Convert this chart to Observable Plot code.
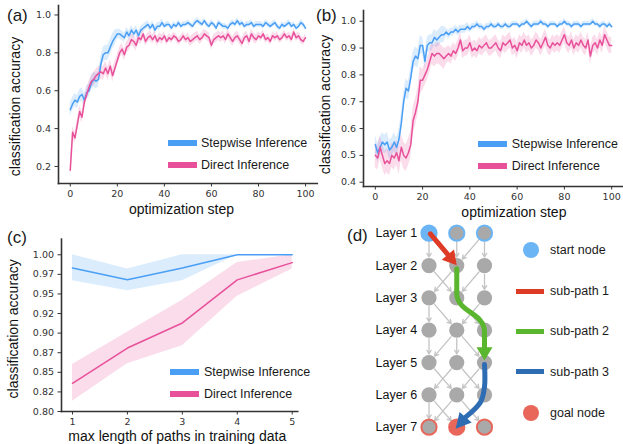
<!DOCTYPE html>
<html><head><meta charset="utf-8">
<script src="https://cdn.jsdelivr.net/npm/d3@7"></script>
<script src="https://cdn.jsdelivr.net/npm/@observablehq/plot@0.6"></script>
<style>
body{margin:0;background:#fff;}
#root{position:relative;width:623px;height:444px;overflow:hidden;background:#fff;font-family:"Liberation Sans",Arial,sans-serif;color:#1a1a1a}
#root svg{position:absolute}
.abs{position:absolute;line-height:1;white-space:nowrap;transform:translateY(-50%)}
.lbl{font-size:17px}
.leg{font-size:12.5px}
.sw{position:absolute}
</style></head><body><div id="root"></div>
<script>
// ---------- colours ----------
const BLUE = "#4a9ff5", PINK = "#e8509a";
const SERIES = ["Stepwise Inference", "Direct Inference"];

// ---------- panel (a) data ----------
const stepsA = d3.range(0, 101);
const xTicksA = [0, 20, 40, 60, 80, 100];
const yTicksA = [0.2, 0.4, 0.6, 0.8, 1.0];
const stepwiseA = [
  0.50,0.53,0.55,0.54,0.57,0.58,0.55,0.59,0.60,0.64,
  0.66,0.65,0.66,0.74,0.79,0.80,0.80,0.83,0.86,0.88,
  0.90,0.90,0.89,0.88,0.91,0.89,0.92,0.90,0.92,0.89,
  0.92,0.93,0.94,0.95,0.93,0.95,0.92,0.94,0.94,0.96,
  0.94,0.95,0.95,0.93,0.95,0.94,0.96,0.94,0.95,0.95,
  0.96,0.95,0.94,0.96,0.97,0.96,0.95,0.97,0.95,0.94,
  0.96,0.95,0.93,0.96,0.95,0.94,0.94,0.93,0.95,0.96,
  0.95,0.97,0.95,0.96,0.94,0.95,0.95,0.96,0.94,0.95,
  0.95,0.95,0.94,0.96,0.95,0.94,0.95,0.96,0.94,0.93,
  0.95,0.94,0.95,0.96,0.94,0.95,0.93,0.94,0.96,0.95,
  0.93];
const directA = [
  0.18,0.38,0.35,0.42,0.49,0.46,0.54,0.58,0.62,0.65,
  0.66,0.68,0.69,0.70,0.69,0.72,0.69,0.73,0.68,0.72,
  0.76,0.80,0.82,0.79,0.83,0.84,0.87,0.86,0.84,0.88,
  0.87,0.90,0.86,0.88,0.89,0.87,0.89,0.86,0.88,0.87,
  0.89,0.86,0.88,0.87,0.89,0.88,0.86,0.87,0.89,0.87,
  0.88,0.86,0.87,0.88,0.89,0.87,0.88,0.90,0.89,0.88,
  0.84,0.87,0.88,0.89,0.88,0.89,0.87,0.90,0.88,0.86,
  0.88,0.89,0.87,0.85,0.88,0.89,0.86,0.90,0.88,0.87,
  0.89,0.88,0.90,0.87,0.88,0.86,0.89,0.88,0.89,0.87,
  0.88,0.90,0.88,0.89,0.87,0.91,0.88,0.89,0.87,0.86,
  0.88];
// band half-widths per block of 10 steps
const stepwiseBandA = [0.035,0.04,0.025,0.02,0.015,0.015,0.015,0.015,0.015,0.015,0.015];
const directBandA   = [0.03,0.035,0.03,0.025,0.02,0.025,0.025,0.025,0.02,0.02,0.02];

// ---------- panel (b) data ----------
const stepsB = d3.range(0, 101);
const xTicksB = [0, 20, 40, 60, 80, 100];
const yTicksB = [0.4, 0.5, 0.6, 0.7, 0.8, 0.9, 1.0];
const stepwiseB = [
  0.54,0.51,0.53,0.55,0.54,0.55,0.52,0.53,0.55,0.53,
  0.56,0.62,0.70,0.75,0.74,0.79,0.85,0.87,0.86,0.91,
  0.91,0.85,0.91,0.92,0.92,0.94,0.93,0.94,0.95,0.95,
  0.96,0.95,0.96,0.96,0.97,0.96,0.97,0.97,0.97,0.98,
  0.97,0.98,0.98,0.99,0.98,0.98,0.97,0.98,0.98,0.99,
  0.98,0.98,0.99,0.98,0.98,0.99,0.98,0.98,0.99,0.99,
  0.99,0.98,0.99,0.99,1.00,0.99,0.98,0.99,0.99,0.99,
  1.00,0.99,0.99,0.98,0.99,0.99,0.99,0.98,0.99,0.99,
  1.00,0.99,0.99,0.98,0.99,0.99,0.99,0.98,0.99,0.99,
  0.99,0.99,1.00,0.99,0.99,0.98,0.99,0.99,0.98,0.99,
  0.98];
const directB = [
  0.50,0.49,0.53,0.50,0.47,0.48,0.47,0.50,0.49,0.51,
  0.48,0.53,0.50,0.49,0.51,0.54,0.63,0.66,0.70,0.78,
  0.78,0.80,0.82,0.85,0.88,0.87,0.88,0.88,0.87,0.86,
  0.87,0.88,0.87,0.89,0.88,0.90,0.93,0.89,0.90,0.90,
  0.92,0.89,0.90,0.89,0.91,0.90,0.91,0.92,0.90,0.90,
  0.91,0.92,0.90,0.89,0.92,0.91,0.92,0.93,0.90,0.91,
  0.89,0.92,0.91,0.93,0.91,0.92,0.90,0.91,0.93,0.92,
  0.90,0.92,0.94,0.91,0.90,0.92,0.91,0.92,0.91,0.93,
  0.95,0.92,0.91,0.93,0.90,0.92,0.91,0.93,0.91,0.90,
  0.93,0.87,0.91,0.92,0.90,0.93,0.91,0.95,0.93,0.91,
  0.91];
const stepwiseBandB = [0.035,0.035,0.03,0.015,0.012,0.01,0.01,0.01,0.01,0.01,0.01];
const directBandB   = [0.045,0.05,0.04,0.03,0.03,0.03,0.03,0.03,0.03,0.03,0.03];

// ---------- panel (c) data ----------
const maxLenC = [1, 2, 3, 4, 5];
const stepwiseC   = [0.983, 0.968, 0.983, 1.000, 1.000];
const stepwiseLoC = [0.967, 0.954, 0.967, 1.000, 1.000];
const stepwiseHiC = [1.000, 0.982, 1.000, 1.000, 1.000];
const directC     = [0.836, 0.881, 0.913, 0.968, 0.990];
const directLoC   = [0.813, 0.861, 0.884, 0.947, 0.982];
const directHiC   = [0.860, 0.901, 0.942, 0.990, 1.000];
const yTicksC = [0.8, 0.825, 0.85, 0.875, 0.9, 0.925, 0.95, 0.975, 1.0];
const yTickLabelsC = ["0.80","0.82","0.85","0.87","0.90","0.92","0.95","0.97","1.00"];

// ---------- panel (d) data ----------
const layerNums = [1, 2, 3, 4, 5, 6, 7];
const colNums = [0, 1, 2];
const startCol = 0, goalCol = 1;
// gray edges: [fromLayer, fromCol, toCol]
const edges = [
  [1,0,0],[1,1,1],[1,2,1],[1,2,2],
  [2,0,1],[2,1,0],[2,2,1],[2,2,2],
  [3,0,0],[3,0,1],[3,1,2],[3,2,1],
  [4,0,0],[4,1,0],[4,1,1],[4,1,2],
  [5,0,1],[5,1,0],[5,1,2],[5,2,1],
  [6,0,0],[6,0,1],[6,1,0],[6,1,2],[6,2,1]
];
const subPathNames = ["sub-path 1", "sub-path 2", "sub-path 3"];
const subPathColors = ["#de3b26", "#5ab52f", "#2e6db4"];
// shaft waypoints (col, layer), arrow tip, curve
const subPathShafts = [
  [[0.05,1.02],[0.68,1.66]],
  [[1.0,2.1],[1.0,2.85],[2.0,4.05],[2.0,4.53]],
  [[2.0,5.06],[2.0,5.75],[1.86,6.22],[1.32,6.69]]
];
const subPathTips = [[1.0,1.99],[2.0,4.94],[0.96,7.05]];
const subPathCurves = ["linear","bump-y","catmull-rom"];
const START_C = "#6bb5f5", GOAL_C = "#e8675a", NODE_C = "#a9a9a9", EDGE_C = "#c4c4c4";

// ---------- helpers ----------
const root = document.getElementById("root");
function place(el, left, top) { el.style.position = "absolute"; el.style.left = left + "px"; el.style.top = top + "px"; root.appendChild(el); }
function html(tag, cls, text, css) { const e = document.createElement(tag); if (cls) e.className = cls; if (text) e.textContent = text; Object.assign(e.style, css); root.appendChild(e); return e; }
function rowsFor(steps, vals, band, name) {
  return vals.map((v, i) => ({step: steps[i], acc: v, lo: v - band[Math.floor(i / 10)], hi: v + band[Math.floor(i / 10)], series: name}));
}
const baseStyle = {fontFamily: "DejaVu Sans", fontSize: "9.5px", color: "#333", background: "transparent", overflow: "visible"};
const labelFont = {fontFamily: "Liberation Sans", fontSize: 14, fill: "#111"};
const colorScale = {domain: SERIES, range: [BLUE, PINK]};

function linePanel({rows, xDomain, yDomain, xTicks, yTicks, yFmt, width, height, mL, mR, mT, mB, xlabel, xlDx, xlDy, ylDx, ylDy}) {
  return Plot.plot({
    width, height, marginLeft: mL, marginRight: mR, marginTop: mT, marginBottom: mB,
    style: baseStyle,
    x: {domain: xDomain, label: null},
    y: {domain: yDomain, label: null},
    color: colorScale,
    marks: [
      Plot.areaY(rows, {x: "step", y1: "lo", y2: "hi", fill: "series", fillOpacity: 0.2}),
      Plot.line(rows, {x: "step", y: "acc", stroke: "series", strokeWidth: 1.5}),
      Plot.axisX({ticks: xTicks, tickSize: 3.5, tickPadding: 3, tickFormat: d => String(d), label: null}),
      Plot.axisY({ticks: yTicks, tickSize: 3.5, tickPadding: 4, tickFormat: yFmt, label: null}),
      Plot.frame({anchor: "left", stroke: "#333", strokeWidth: 1.6}),
      Plot.frame({anchor: "bottom", stroke: "#333", strokeWidth: 1.6}),
      Plot.text([xlabel], {frameAnchor: "bottom", text: d => d, dx: xlDx, dy: xlDy, textAnchor: "middle", lineAnchor: "middle", ...labelFont}),
      Plot.text(["classification accuracy"], {frameAnchor: "left", text: d => d, rotate: -90, dx: ylDx, dy: ylDy, textAnchor: "middle", lineAnchor: "middle", ...labelFont})
    ]
  });
}

// ---------- panel (a) ----------
const rowsA = [...rowsFor(stepsA, stepwiseA, stepwiseBandA, SERIES[0]), ...rowsFor(stepsA, directA, directBandA, SERIES[1])];
const plotA = linePanel({rows: rowsA, xDomain: [-5, 105], yDomain: [0.11, 1.05], xTicks: xTicksA, yTicks: yTicksA, yFmt: d3.format(".1f"),
  width: 320, height: 220, mL: 58, mR: 3.2, mT: 5, mB: 37, xlabel: "optimization step", xlDx: -6.4, xlDy: 26, ylDx: -43, ylDy: 12});
place(plotA, 0, 0);

// ---------- panel (b) ----------
const rowsB = [...rowsFor(stepsB, stepwiseB, stepwiseBandB, SERIES[0]), ...rowsFor(stepsB, directB, directBandB, SERIES[1])];
const plotB = linePanel({rows: rowsB, xDomain: [-5, 105], yDomain: [0.384, 1.04], xTicks: xTicksB, yTicks: yTicksB, yFmt: d3.format(".1f"),
  width: 308, height: 220, mL: 48, mR: 0, mT: 10, mB: 34, xlabel: "optimization step", xlDx: 20.4, xlDy: 25.7, ylDx: -38, ylDy: 6});
place(plotB, 315, 0);

// ---------- panel (c) ----------
const rowsC = [
  ...maxLenC.map((x, i) => ({step: x, acc: stepwiseC[i], lo: stepwiseLoC[i], hi: stepwiseHiC[i], series: SERIES[0]})),
  ...maxLenC.map((x, i) => ({step: x, acc: directC[i], lo: directLoC[i], hi: directHiC[i], series: SERIES[1]}))
];
const plotC = linePanel({rows: rowsC, xDomain: [0.8, 5.1], yDomain: [0.8, 1.02], xTicks: maxLenC, yTicks: yTicksC,
  yFmt: d => yTickLabelsC[yTicksC.indexOf(d)],
  width: 310, height: 224, mL: 61, mR: 12.8, mT: 18.6, mB: 33, xlabel: "max length of paths in training data", xlDx: -2.3, xlDy: 25, ylDx: -47.7, ylDy: 3.5});
place(plotC, 0, 220);

// ---------- panel (d) ----------
const nodeRows = [];
for (const L of layerNums) for (const c of colNums) {
  const first = L === layerNums[0], last = L === layerNums[layerNums.length - 1];
  nodeRows.push({layer: L, col: c,
    fill: first && c === startCol ? START_C : last && c === goalCol ? GOAL_C : NODE_C,
    stroke: first ? START_C : last ? GOAL_C : "none"});
}
const edgeRows = edges.map(([L, a, b]) => ({l1: L, c1: a, l2: L + 1, c2: b}));
const xRangeD = [88.5, 144], yRangeD = [12.7, 206.7];
const pxPerCol = (xRangeD[1] - xRangeD[0]) / (colNums[colNums.length - 1] - colNums[0]);
const pxPerLayer = (yRangeD[1] - yRangeD[0]) / (layerNums[layerNums.length - 1] - layerNums[0]);
function headPoly(base, tip, hw) {
  const bx = base[0] * pxPerCol, by = base[1] * pxPerLayer, tx = tip[0] * pxPerCol, ty = tip[1] * pxPerLayer;
  const dx = tx - bx, dy = ty - by, len = Math.hypot(dx, dy);
  const nx = -dy / len * hw, ny = dx / len * hw;
  return [[(bx + nx) / pxPerCol, (by + ny) / pxPerLayer], tip, [(bx - nx) / pxPerCol, (by - ny) / pxPerLayer]];
}
const pathMarks = [];
subPathShafts.forEach((shaft, k) => {
  pathMarks.push(Plot.line(shaft, {x: d => d[0], y: d => d[1], stroke: subPathColors[k], strokeWidth: 5, curve: subPathCurves[k]}));
  pathMarks.push(Plot.line(headPoly(shaft[shaft.length - 1], subPathTips[k], 8), {x: d => d[0], y: d => d[1], fill: subPathColors[k], stroke: "none"}));
});
const plotD = Plot.plot({
  width: 283, height: 224, margin: 0,
  style: {...baseStyle},
  x: {domain: [colNums[0], colNums[colNums.length - 1]], range: xRangeD, axis: null},
  y: {domain: [layerNums[0], layerNums[layerNums.length - 1]], range: yRangeD, axis: null},
  marks: [
    Plot.arrow(edgeRows, {x1: "c1", y1: "l1", x2: "c2", y2: "l2", stroke: EDGE_C, strokeWidth: 1.3, headLength: 5, insetStart: 8.5, insetEnd: 8.5}),
    Plot.dot(nodeRows, {x: "col", y: "layer", r: 7.6, fill: "fill", stroke: "stroke", strokeWidth: 2}),
    ...pathMarks,
    Plot.text(layerNums, {x: colNums[0], y: d => d, text: d => "Layer " + d, textAnchor: "end", dx: -11.8, fontFamily: "Liberation Sans", fontSize: 12.5, fill: "#111"})
  ]
});
place(plotD, 340, 220);

// ---------- HTML legends & panel labels ----------
function legendItem(kind, color, label, x, y, textX) {
  if (kind === "line") html("div", "sw", "", {left: x + "px", top: (y - 3) + "px", width: "29px", height: "6px", background: color});
  else if (kind === "thin") html("div", "sw", "", {left: x + "px", top: (y - 2.5) + "px", width: "28px", height: "5px", background: color});
  else html("div", "sw", "", {left: (x - 8) + "px", top: (y - 8) + "px", width: "16px", height: "16px", borderRadius: "50%", background: color});
  html("div", "abs leg", label, {left: textX + "px", top: y + "px"});
}
legendItem("line", BLUE, SERIES[0], 168, 142.7, 201);
legendItem("line", PINK, SERIES[1], 168, 165.3, 201);
legendItem("line", BLUE, SERIES[0], 478, 144.3, 511.7);
legendItem("line", PINK, SERIES[1], 478, 166, 511.7);
legendItem("line", BLUE, SERIES[0], 170, 371.7, 204);
legendItem("line", PINK, SERIES[1], 170, 394, 204);
legendItem("dot", START_C, "start node", 530.7, 250, 550);
legendItem("thin", subPathColors[0], subPathNames[0], 516, 291, 550);
legendItem("thin", subPathColors[1], subPathNames[1], 516, 331, 550);
legendItem("thin", subPathColors[2], subPathNames[2], 516, 371.7, 550);
legendItem("dot", GOAL_C, "goal node", 530.7, 412.7, 550);

html("div", "abs lbl", "(a)", {left: "7px", top: "15px"});
html("div", "abs lbl", "(b)", {left: "316px", top: "15px"});
html("div", "abs lbl", "(c)", {left: "7px", top: "236.7px"});
html("div", "abs lbl", "(d)", {left: "347px", top: "235px"});
</script></body></html>
